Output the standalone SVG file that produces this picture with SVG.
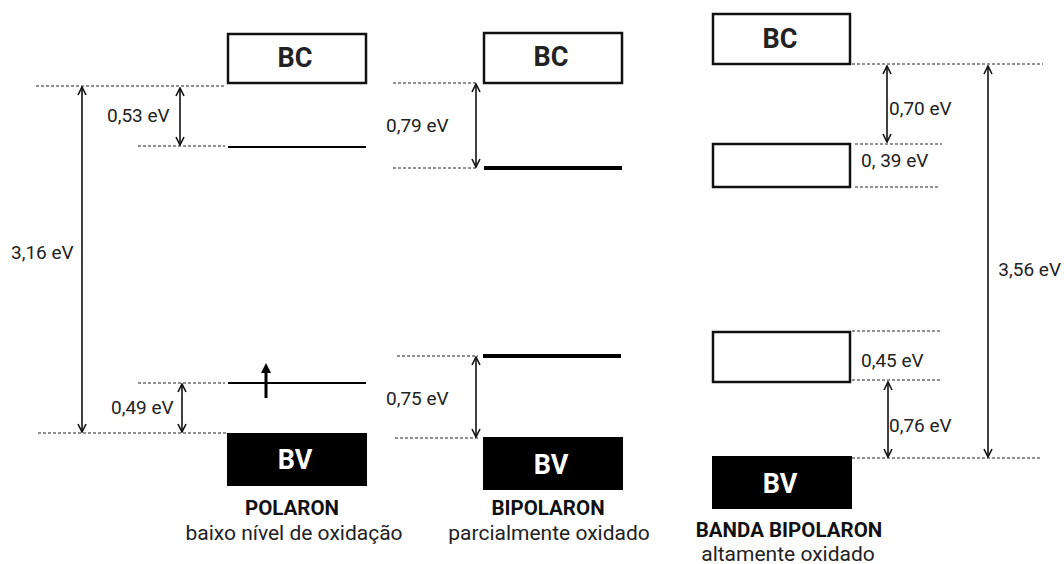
<svg xmlns="http://www.w3.org/2000/svg" width="1064" height="564" viewBox="0 0 1064 564">
<style>
text{font-family:Roboto,"Liberation Sans",sans-serif;fill:#222}
.lbl{font-size:19px}
.band{font-size:27px;font-weight:bold;text-anchor:middle}
.bv{fill:#fff}
.title{font-size:20.5px;font-weight:bold;text-anchor:middle;fill:#111}
.sub{font-size:21px;text-anchor:middle}
.box{fill:#fff;stroke:#111;stroke-width:2.5}
.fill{fill:#000}
.dash{stroke:#222;stroke-width:1;stroke-dasharray:3,2;fill:none}
.lev{stroke:#000;stroke-width:2;fill:none}
.thick{stroke:#000;stroke-width:4;fill:none}
.arr{stroke:#111;stroke-width:1.6;fill:none;marker-start:url(#ah);marker-end:url(#ah)}
</style>
<defs>
<marker id="ah" viewBox="0 0 10 10" refX="9" refY="5" markerWidth="10" markerHeight="10" markerUnits="userSpaceOnUse" orient="auto-start-reverse">
<path d="M1,1 L9,5 L1,9" fill="none" stroke="#111" stroke-width="1.6"/>
</marker>
<marker id="up" viewBox="0 0 10 10" refX="5" refY="5" markerWidth="10" markerHeight="12" markerUnits="userSpaceOnUse" orient="auto">
<path d="M0,0 L10,5 L0,10 Z" fill="#000"/>
</marker>
</defs>

<g id="polaron">
<rect class="box" x="228" y="34" width="138" height="49"/>
<text class="band" x="295" y="67">BC</text>
<line class="lev" x1="228" y1="147" x2="366" y2="147"/>
<line class="lev" x1="228" y1="383" x2="366" y2="383"/>
<rect class="fill" x="227" y="433" width="140" height="53"/>
<text class="band bv" x="295" y="469">BV</text>
<text class="title" x="292" y="515">POLARON</text>
<text class="sub" x="294" y="540">baixo nível de oxidação</text>
</g>

<g id="bipolaron">
<rect class="box" x="484" y="33" width="138" height="50"/>
<text class="band" x="551" y="66">BC</text>
<line class="thick" x1="484" y1="168" x2="622" y2="168"/>
<line class="thick" x1="483" y1="356" x2="621" y2="356"/>
<rect class="fill" x="483" y="437" width="140" height="53"/>
<text class="band bv" x="551" y="474">BV</text>
<text class="title" x="548" y="515">BIPOLARON</text>
<text class="sub" x="549" y="540">parcialmente oxidado</text>
</g>

<g id="banda-bipolaron">
<rect class="box" x="713" y="14" width="137" height="50"/>
<text class="band" x="780" y="48">BC</text>
<rect class="box" x="713" y="144" width="137" height="43"/>
<rect class="box" x="713" y="332" width="137" height="50"/>
<rect class="fill" x="712" y="456" width="140" height="53"/>
<text class="band bv" x="780" y="493">BV</text>
<text class="title" x="789" y="537">BANDA BIPOLARON</text>
<text class="sub" x="788" y="561">altamente oxidado</text>
</g>

<g id="connectors">
<line class="dash" x1="36" y1="86" x2="226" y2="86"/>
<line class="dash" x1="138" y1="146" x2="225" y2="146"/>
<line class="dash" x1="138" y1="383" x2="225" y2="383"/>
<line class="dash" x1="38" y1="433" x2="226" y2="433"/>
<line class="arr" x1="180" y1="88" x2="180" y2="145"/>
<line class="arr" x1="82" y1="87" x2="82" y2="432"/>
<line class="arr" x1="182" y1="384" x2="182" y2="432"/>
<line stroke="#000" stroke-width="3" x1="266" y1="398" x2="266" y2="368" marker-end="url(#up)"/>

<line class="dash" x1="393" y1="83" x2="478" y2="83"/>
<line class="dash" x1="393" y1="168" x2="478" y2="168"/>
<line class="dash" x1="397" y1="356" x2="478" y2="356"/>
<line class="dash" x1="395" y1="438" x2="478" y2="438"/>
<line class="arr" x1="476" y1="84" x2="476" y2="167"/>
<line class="arr" x1="476" y1="357" x2="476" y2="437"/>

<line class="dash" x1="852" y1="64" x2="1043" y2="64"/>
<line class="dash" x1="855" y1="144" x2="942" y2="144"/>
<line class="dash" x1="855" y1="187" x2="940" y2="187"/>
<line class="dash" x1="852" y1="331" x2="940" y2="331"/>
<line class="dash" x1="852" y1="380" x2="940" y2="380"/>
<line class="dash" x1="852" y1="458" x2="1042" y2="458"/>
<line class="arr" x1="887" y1="66" x2="887" y2="142"/>
<line class="arr" x1="988" y1="66" x2="988" y2="457"/>
<line class="arr" x1="888" y1="382" x2="888" y2="457"/>
</g>

<g id="labels">
<text class="lbl" x="107" y="122">0,53 eV</text>
<text class="lbl" x="11" y="259">3,16 eV</text>
<text class="lbl" x="111" y="414">0,49 eV</text>
<text class="lbl" x="386" y="132">0,79 eV</text>
<text class="lbl" x="386" y="405">0,75 eV</text>
<text class="lbl" x="889" y="115">0,70 eV</text>
<text class="lbl" x="861" y="167">0, 39 eV</text>
<text class="lbl" x="1061" y="276" text-anchor="end">3,56 eV</text>
<text class="lbl" x="861" y="367">0,45 eV</text>
<text class="lbl" x="889" y="432">0,76 eV</text>
</g>
</svg>
